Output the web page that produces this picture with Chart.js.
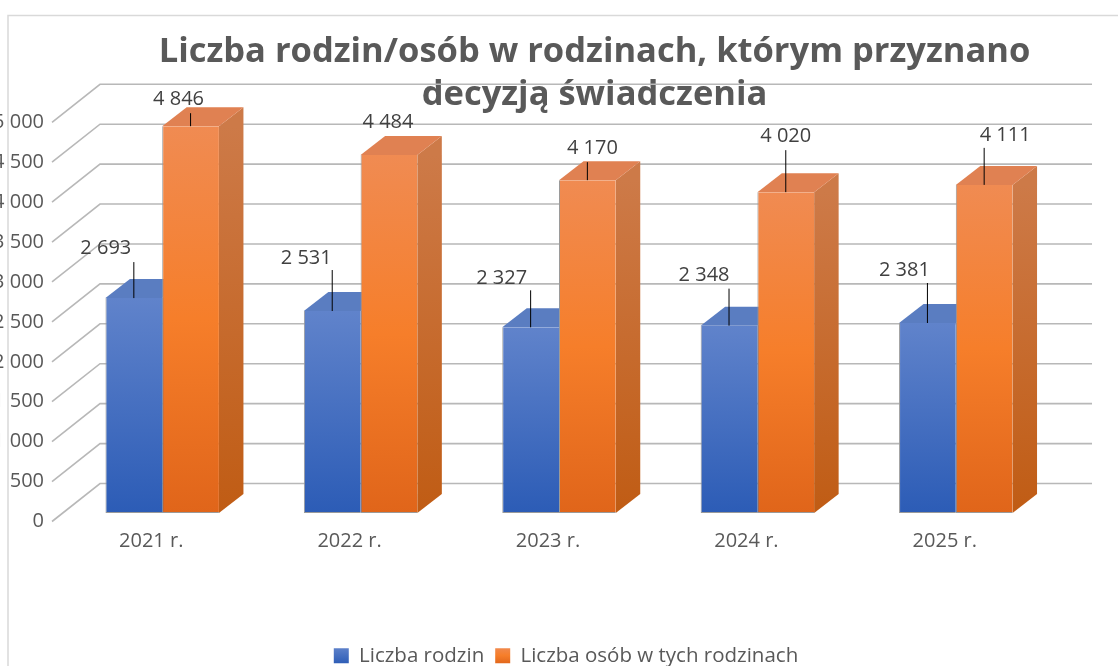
<!DOCTYPE html>
<html lang="pl"><head><meta charset="utf-8">
<style>html,body{margin:0;padding:0;background:#fff}canvas{display:block}</style>
<script src="https://cdn.jsdelivr.net/npm/chart.js@4/dist/chart.umd.min.js"></script>
</head><body>
<canvas id="c" width="1118" height="666"></canvas>
<script>
const categories = ['2021 r.', '2022 r.', '2023 r.', '2024 r.', '2025 r.'];
const seriesNames = ['Liczba rodzin', 'Liczba osób w tych rodzinach'];
const rodziny = [2693, 2531, 2327, 2348, 2381];
const osoby = [4846, 4484, 4170, 4020, 4111];
const titleLines = ['Liczba rodzin/osób w rodzinach, którym przyznano', 'decyzją świadczenia'];

// label nudges relative to the top-centre of each bar: [labelDx, labelDy, leaderTopDy]
const rodzinyNudge = [[-28,-50,-36],[-26,-53,-41],[-29,-49,-37],[-25,-50,-37],[-23,-53,-40]];
const osobyNudge = [[-12,-27,-13],[-1,-33,null],[5,-32,-18],[0,-56,-42],[21,-50,-37]];

const FONT = '"Open Sans", sans-serif';
const fmt = v => String(v).replace(/\B(?=(\d{3})+$)/g, ' ');
const DX = 24.5, DY = -19;
const WALL_DX = 48, WALL_DY = -38, FRONT_DX = -11, FRONT_DY = 8.4;
const TITLE_SHIFT = 67, TITLE_SHIFT_Y = 3, LEGEND_SHIFT_X = 38.5, LEGEND_SHIFT_Y = 10;

const palette = [
  {front:['#6083cb','#2c5cb6'], top:'#5a7dc1', side:['#4a6cb0','#264f9c']},
  {front:['#f08b52','#f67e2a','#e0651a'], top:'#e08152', side:['#cd7a48','#c05c14']}
];
function vGrad(ctx, y0, y1, stops){
  const g = ctx.createLinearGradient(0,y0,0,y1);
  stops.forEach((c,i)=>g.addColorStop(stops.length===1?0:i/(stops.length-1),c));
  return g;
}
function frontFill(idx){
  return c => {
    const chart = c.chart, s = chart.scales.y;
    if (c.type !== 'data' || !s || !chart.chartArea) return palette[idx].front[1];
    return vGrad(chart.ctx, s.getPixelForValue(c.parsed ? c.parsed.y : 0), s.getPixelForValue(0), palette[idx].front);
  };
}

const threeD = {
  id:'threeD',
  afterLayout(chart){
    chart.titleBlock.left += TITLE_SHIFT; chart.titleBlock.right += TITLE_SHIFT;
    chart.titleBlock.top += TITLE_SHIFT_Y; chart.titleBlock.bottom += TITLE_SHIFT_Y;
    chart.legend.left += LEGEND_SHIFT_X; chart.legend.right += LEGEND_SHIFT_X;
    chart.legend.top += LEGEND_SHIFT_Y; chart.legend.bottom += LEGEND_SHIFT_Y;
  },
  beforeDraw(chart){
    const ctx = chart.ctx;
    ctx.save();
    ctx.fillStyle='#fff'; ctx.fillRect(0,0,chart.width,chart.height);
    ctx.strokeStyle='#d9d9d9'; ctx.lineWidth=1.5;
    ctx.beginPath(); ctx.moveTo(8,chart.height); ctx.lineTo(8,15.5); ctx.lineTo(chart.width,15.5); ctx.stroke();
    ctx.restore();
  },
  beforeDatasetsDraw(chart){
    const ctx = chart.ctx, y = chart.scales.y, a = chart.chartArea;
    ctx.save();
    ctx.strokeStyle='#b8b8b8'; ctx.lineWidth=1.6;
    y.ticks.forEach(t=>{
      const p = y.getPixelForValue(t.value)+FRONT_DY, fx = a.left+FRONT_DX;
      ctx.beginPath(); ctx.moveTo(fx,p); ctx.lineTo(fx+WALL_DX,p+WALL_DY); ctx.lineTo(a.right+FRONT_DX+WALL_DX,p+WALL_DY); ctx.stroke();
    });
    chart.data.datasets.forEach((ds,i)=>{
      chart.getDatasetMeta(i).data.forEach(b=>{
        const l=b.x-b.width/2, r=b.x+b.width/2, top=b.y, base=b.base;
        ctx.fillStyle=vGrad(ctx,top,base,palette[i].side);
        ctx.beginPath(); ctx.moveTo(r,top); ctx.lineTo(r+DX,top+DY); ctx.lineTo(r+DX,base+DY); ctx.lineTo(r,base); ctx.closePath(); ctx.fill();
        ctx.fillStyle=palette[i].top;
        ctx.beginPath(); ctx.moveTo(l,top); ctx.lineTo(l+DX,top+DY); ctx.lineTo(r+DX,top+DY); ctx.lineTo(r,top); ctx.closePath(); ctx.fill();
      });
    });
    ctx.restore();
  },
  afterDatasetsDraw(chart){
    const ctx = chart.ctx;
    const nudges=[rodzinyNudge,osobyNudge];
    ctx.save();
    chart.data.datasets.forEach((ds,i)=>{
      chart.getDatasetMeta(i).data.forEach((b,k)=>{
        const n=nudges[i][k];
        if(n[2]!==null){
          ctx.strokeStyle='#000'; ctx.lineWidth=1;
          ctx.beginPath(); ctx.moveTo(b.x,b.y+n[2]); ctx.lineTo(b.x,b.y); ctx.stroke();
        }
        ctx.fillStyle='#404040'; ctx.font='20px '+FONT; ctx.textAlign='center'; ctx.textBaseline='middle';
        ctx.fillText(fmt(ds.data[k]),b.x+n[0],b.y+n[1]);
      });
    });
    ctx.restore();
  }
};

new Chart(document.getElementById('c'),{
  type:'bar',
  data:{labels:categories,datasets:[
    {label:seriesNames[0],data:rodziny,backgroundColor:frontFill(0)},
    {label:seriesNames[1],data:osoby,backgroundColor:frontFill(1)}
  ]},
  plugins:[threeD],
  options:{
    responsive:false,animation:false,
    layout:{padding:{left:0,right:63,top:0,bottom:0}},
    datasets:{bar:{barPercentage:1,categoryPercentage:0.572,borderColor:'#9a9a9a',borderWidth:{left:1,bottom:1,top:0,right:0},borderSkipped:false}},
    scales:{
      x:{grid:{display:false},border:{display:false},
        afterFit:s=>{s.height=111.4;},
        ticks:{font:{family:FONT,size:20},color:'#595959',padding:8,labelOffset:-11,maxRotation:0}},
      y:{min:0,max:5000,grid:{display:false},border:{display:false},
        afterFit:s=>{s.width=63;},
        ticks:{stepSize:500,font:{family:FONT,size:20},color:'#595959',padding:11,labelOffset:8.4,callback:v=>fmt(v)}}
    },
    plugins:{
      tooltip:{enabled:false},
      title:{display:true,text:titleLines,font:{family:FONT,size:34.5,weight:'bold',lineHeight:1.245},color:'#595959',padding:{top:28,bottom:0}},
      legend:{position:'bottom',labels:{font:{family:FONT,size:20.5},color:'#595959',boxWidth:15,boxHeight:15,padding:11,
        generateLabels:c=>Chart.defaults.plugins.legend.labels.generateLabels(c).map((item,i)=>Object.assign(item,{lineWidth:0,fillStyle:vGrad(c.ctx,647,664,palette[i].front)}))}}
    }
  }
});
</script></body></html>
